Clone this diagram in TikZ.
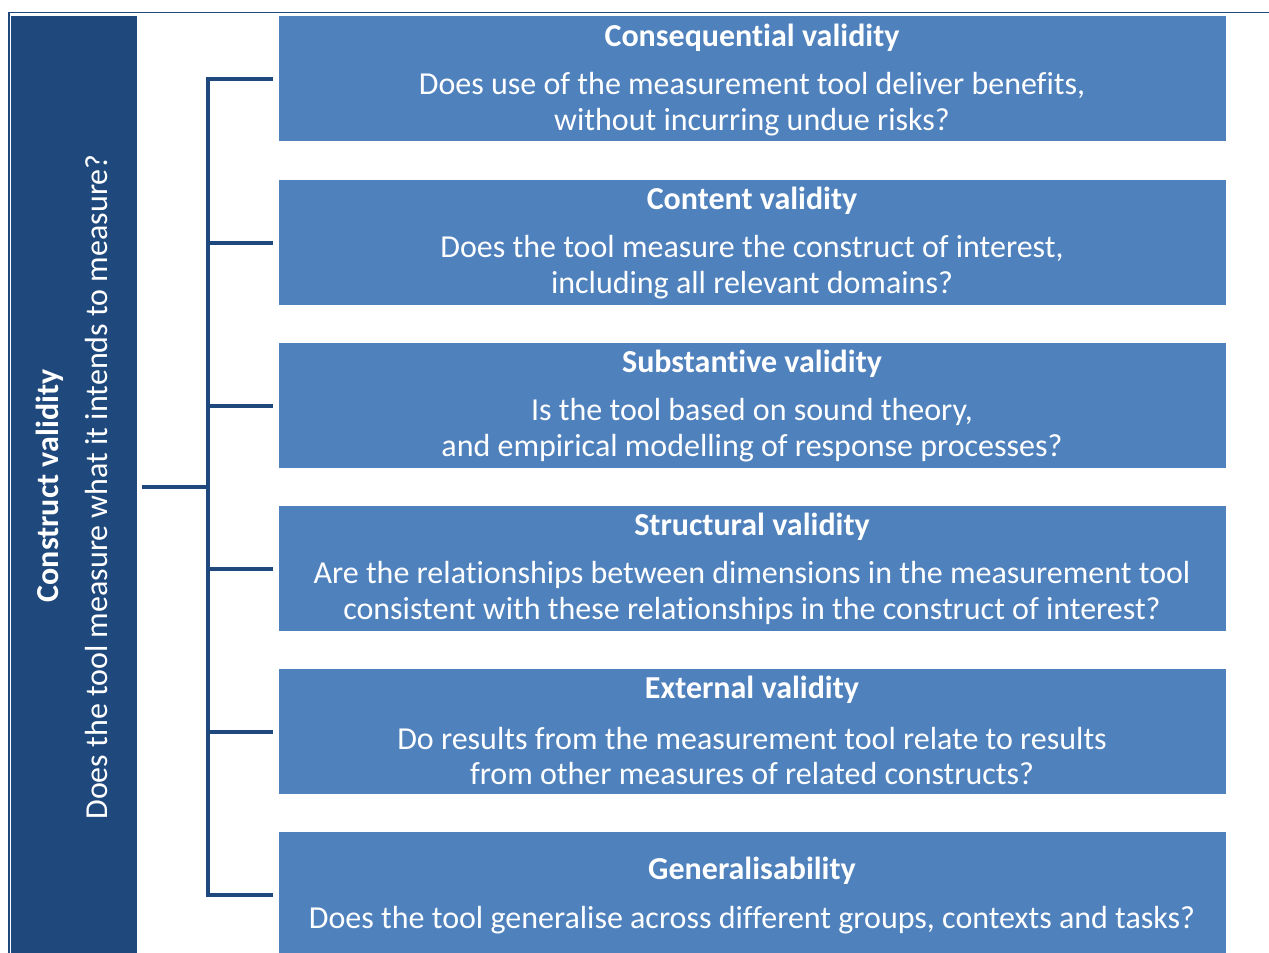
\documentclass[tikz,border=0pt]{standalone}
\usepackage{fontspec}
\setmainfont{Carlito}[RawFeature={-liga;-clig;-dlig;-calt}]
\definecolor{darkblue}{RGB}{31,73,125}
\definecolor{midblue}{RGB}{79,129,189}
\begin{document}
\begin{tikzpicture}[x=1pt,y=-1pt,
  box/.style={fill=midblue,draw=none,minimum width=947pt,minimum height=125pt,inner sep=0pt,anchor=north west},
  ttl/.style={text=white,font=\fontsize{32}{35}\selectfont\bfseries,align=center,inner sep=0pt},
  bdy/.style={text=white,font=\fontsize{32}{35.5}\selectfont,align=center,inner sep=0pt},
  brk/.style={draw=darkblue,line width=4pt},
]
\useasboundingbox (0,0) rectangle (1269,953);
% frame
\draw[darkblue,line width=1.5pt] (9,953) -- (9,12.5) -- (1269,12.5);
% left panel
\fill[darkblue] (11,16) rectangle (137,953);
\node[text=white,font=\fontsize{32}{35}\selectfont\bfseries,rotate=90,inner sep=0pt] (cv) at (50,486) {Construct validity};
\node[text=white,font=\fontsize{32}{35}\selectfont,rotate=90,inner sep=0pt] (cq) at (97,487) {Does the tool measure what it intends to measure?};
% boxes
\node[box] (b1) at (279,16) {};
\node[box] (b2) at (279,180) {};
\node[box] (b3) at (279,343) {};
\node[box] (b4) at (279,506) {};
\node[box] (b5) at (279,669) {};
\node[box] (b6) at (279,832) {};
% texts
\node[ttl] (t1) at (752,38) {Consequential validity};
\node[bdy] (d1) at (752,104) {Does use of the measurement tool deliver benefits,\\without incurring undue risks?};
\node[ttl] (t2) at (752,201) {Content validity};
\node[bdy] (d2) at (752,267) {Does the tool measure the construct of interest,\\including all relevant domains?};
\node[ttl] (t3) at (752,364) {Substantive validity};
\node[bdy] (d3) at (752,430) {Is the tool based on sound theory,\\and empirical modelling of response processes?};
\node[ttl] (t4) at (752,527) {Structural validity};
\node[bdy] (d4) at (752,593) {Are the relationships between dimensions in the measurement tool\\consistent with these relationships in the construct of interest?};
\node[ttl] (t5) at (752,690) {External validity};
\node[bdy] (d5) at (752,756) {Do results from the measurement tool relate to results\\from other measures of related constructs?};
\node[ttl] (t6) at (752,871) {Generalisability};
\node[bdy] (d6) at (752,920) {Does the tool generalise across different groups, contexts and tasks?};
% bracket
\coordinate (top) at (208,79);
\coordinate (bot) at (208,894);
\coordinate (mid) at (208,487);
\coordinate (left) at (142,487);
\draw[brk] (top) -- (bot);
\draw[brk] (left) -- (mid);
\foreach \b in {b1,b2,b3,b4,b5,b6}{
  \draw[brk] (206,0 |- \b.west) -- ([xshift=-6pt]\b.west);
}
\end{tikzpicture}
\end{document}
